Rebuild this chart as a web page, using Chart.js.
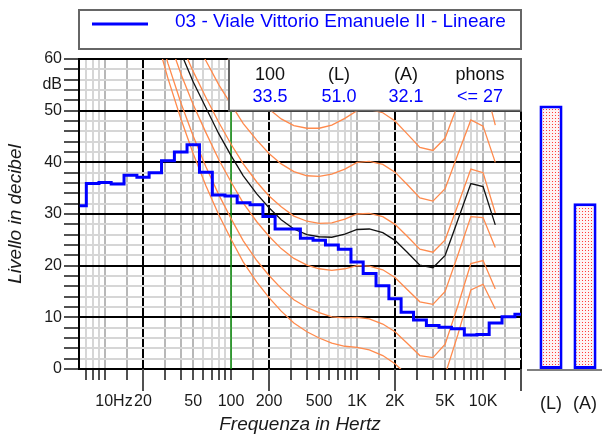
<!DOCTYPE html>
<html>
<head>
<meta charset="utf-8">
<script src="https://cdn.jsdelivr.net/npm/chart.js@4.4.0/dist/chart.umd.min.js"></script>
<style>
    body { margin: 0; background: #fff; }
    #wrap { position: relative; width: 602px; height: 434px; }
    #chart-spectrum { position: absolute; left: 0; top: 0; }
    #chart-levels { position: absolute; left: 527px; top: 0; }
</style>
</head>
<body>
<div id="wrap">
    <canvas id="chart-spectrum" width="602" height="434"></canvas>
    <canvas id="chart-levels" width="75" height="434"></canvas>
</div>
<script>
// Spettro in terzi d'ottava
var bandHz = [6.3, 8, 10, 12.5, 16, 20, 25, 31.5, 40, 50, 63, 80, 100, 125, 160, 200, 250, 315, 400, 500,
    630, 800, 1000, 1250, 1600, 2000, 2500, 3150, 4000, 5000, 6300, 8000, 10000, 12500, 16000, 20000];
var bandLevels = [31.6, 35.9, 36.1, 35.8, 37.5, 37.1, 38.0, 40.3, 42.0, 43.4, 38.1, 33.7, 33.5, 32.2, 31.8, 29.5, 27.1, 27.1, 25.3, 24.9,
    24.0, 23.2, 20.7, 18.5, 16.1, 13.6, 11.0, 9.5, 8.4, 8.1, 7.8, 6.6, 6.7, 8.9, 10.1, 10.6];

// Curve isofoniche
var contourHz = [20, 25, 31.5, 40, 50, 63, 80, 100, 125, 160, 200, 250, 315, 400, 500, 630, 800, 1000,
    1250, 1600, 2000, 2500, 3150, 4000, 5000, 6300, 8000, 10000, 12500];
var threshold = [74.3, 65.0, 56.3, 48.4, 41.7, 35.5, 29.8, 25.1, 20.7, 16.8, 13.8, 11.2, 8.9, 7.2, 6.0, 5.0, 4.4, 4.2,
    3.7, 2.6, 1.0, -1.2, -3.6, -3.9, -1.1, 6.6, 15.3, 16.4, 11.6];
var phon10 = [76.8, 67.7, 59.2, 51.5, 45.1, 39.2, 33.7, 29.1, 24.8, 21.0, 18.1, 15.6, 13.4, 11.9, 10.9, 10.1, 9.9, 10.0,
    9.7, 8.7, 7.2, 5.0, 2.6, 2.2, 4.8, 12.2, 20.4, 21.0, 15.5];
var phon20 = [81.3, 72.5, 64.3, 57.1, 51.2, 45.8, 40.5, 36.2, 32.1, 28.5, 25.7, 23.3, 21.4, 20.1, 19.4, 19.1, 19.4, 20.0,
    19.9, 19.2, 17.7, 15.4, 13.0, 12.5, 15.0, 22.0, 29.5, 29.3, 23.5];
var phon27 = [84.6, 76.0, 68.1, 61.2, 55.6, 50.6, 45.5, 41.3, 37.4, 33.9, 31.2, 28.9, 27.1, 26.0, 25.6, 25.5, 26.1, 27.0,
    27.1, 26.4, 24.9, 22.6, 20.1, 19.6, 22.0, 28.8, 35.9, 35.3, 27.9];
var phon30 = [86.0, 77.6, 69.7, 62.9, 57.6, 52.6, 47.7, 43.5, 39.7, 36.2, 33.5, 31.4, 29.6, 28.6, 28.2, 28.3, 29.0, 30.0,
    30.1, 29.5, 28.0, 25.7, 23.2, 22.6, 25.0, 31.7, 38.7, 38.0, 30.2];
var phon40 = [91.0, 82.9, 75.4, 69.0, 64.3, 59.7, 55.0, 51.2, 47.5, 44.3, 41.7, 39.7, 38.2, 37.4, 37.3, 37.7, 38.7, 40.0,
    40.2, 39.6, 38.1, 35.7, 33.1, 32.5, 34.9, 41.5, 48.2, 47.0, 40.0];
var phon50 = [96.2, 88.5, 81.3, 75.4, 71.3, 67.1, 62.7, 59.1, 55.7, 52.7, 50.3, 48.4, 47.1, 46.6, 46.6, 47.2, 48.5, 50.0,
    50.2, 49.6, 48.0, 45.5, 42.9, 42.3, 44.7, 51.2, 57.8, 56.5, 47.2];

// Livelli globali
var totalLabels = ["(L)", "(A)"];
var totalLevels = [51.0, 32.1];
var boxHeads = ["100", "(L)", "(A)", "phons"];
var boxValues = ["33.5", "51.0", "32.1", "<= 27"];
var legendText = "03 - Viale Vittorio Emanuele II - Lineare";

// Assi
var gridHz = [7, 8, 9, 10, 15, 20, 30, 40, 50, 60, 70, 80, 90, 100, 150, 200, 300, 400, 500, 600, 700, 800, 900,
    1000, 1500, 2000, 3000, 4000, 5000, 6000, 7000, 8000, 9000, 10000, 15000, 20000];
var majorHz = [20, 200, 2000, 20000];
var darkHz = [10, 15, 30, 40, 50, 100, 150, 300, 400, 500, 1000, 1500, 3000, 4000, 5000, 10000, 15000];
var freqLabels = {10: "    10Hz", 20: "20", 50: "50", 100: "100", 200: "200", 500: "500",
    1000: "1K", 2000: "2K", 5000: "5K", 10000: "10K"};
var levelTicks = [0, 2, 4, 6, 8, 10, 12, 14, 16, 18, 20, 22, 24, 26, 28, 30, 32, 34, 36, 38, 40,
    42, 44, 46, 48, 50, 52, 54, 55, 56, 58, 60];
var markerHz = 100;

var family = '"Liberation Sans", Arial, sans-serif';
var blue = "#0000ff";
var orange = "#ff8a4c";
Chart.defaults.font.family = family;

function toPoints(freqs, values) {
    return freqs.map(function (f, i) {
        return {x: Math.log10(f), y: values[i]};
    });
}

function curve(values, color) {
    return {
        data: toPoints(contourHz, values),
        borderColor: color,
        borderWidth: 1.3,
        pointRadius: 0,
        tension: 0
    };
}

var frames = {
    id: "frames",
    afterDatasetsDraw: function (chart) {
        var c = chart.ctx, a = chart.chartArea, y = chart.scales.y;
        var left = a.left + 150, top = a.top;
        var w = a.right - left, h = y.getPixelForValue(50) - top;
        var cols = [41, 110, 177, 251];
        c.save();
        c.fillStyle = "#fff";
        c.fillRect(left, top, w, h);
        c.strokeStyle = "#666";
        c.lineWidth = 2;
        c.strokeRect(left, top, w, h);
        c.textAlign = "center";
        c.textBaseline = "middle";
        c.font = "18px " + family;
        for (var i = 0; i < boxHeads.length; i++) {
            c.fillStyle = "#111";
            c.fillText(boxHeads[i], left + cols[i], top + 16);
            c.fillStyle = blue;
            c.fillText(boxValues[i], left + cols[i], top + 38);
        }
        c.restore();
    },
    afterDraw: function (chart) {
        var c = chart.ctx, a = chart.chartArea, x = chart.scales.x;
        c.save();
        // tacche lunghe
        c.strokeStyle = "#505050";
        c.lineWidth = 2;
        majorHz.forEach(function (f) {
            var px = Math.round(x.getPixelForValue(Math.log10(f)));
            c.beginPath();
            c.moveTo(px, a.bottom);
            c.lineTo(px, a.bottom + 22);
            c.stroke();
        });
        // legenda
        c.strokeStyle = "#666";
        c.strokeRect(a.left, 10, a.right - a.left, 39);
        c.strokeStyle = blue;
        c.lineWidth = 3;
        c.beginPath();
        c.moveTo(a.left + 13, 24);
        c.lineTo(a.left + 69, 24);
        c.stroke();
        c.fillStyle = blue;
        c.font = "19px " + family;
        c.textAlign = "left";
        c.textBaseline = "middle";
        c.fillText(legendText, a.left + 96, 22);
        c.restore();
    }
};

var ctx = document.getElementById("chart-spectrum").getContext("2d");
var myChart = new Chart(ctx, {
    type: "line",
    data: {
        datasets: [
            {
                label: legendText,
                data: toPoints(bandHz, bandLevels),
                borderColor: blue,
                borderWidth: 3,
                pointRadius: 0,
                stepped: "middle"
            },
            curve(phon27, "#111"),
            curve(threshold, orange),
            curve(phon10, orange),
            curve(phon20, orange),
            curve(phon30, orange),
            curve(phon40, orange),
            curve(phon50, orange),
            {
                data: [{x: Math.log10(markerHz), y: 0}, {x: Math.log10(markerHz), y: 60}],
                borderColor: "#109010",
                borderWidth: 1.5,
                pointRadius: 0
            }
        ]
    },
    options: {
        responsive: false,
        animation: false,
        layout: {
            padding: {top: 59, right: 81, left: 0, bottom: 0}
        },
        plugins: {
            legend: {display: false},
            tooltip: {enabled: false}
        },
        scales: {
            x: {
                type: "linear",
                min: Math.log10(20000) - 442 / 126,
                max: Math.log10(20000),
                afterBuildTicks: function (scale) {
                    scale.ticks = gridHz.map(function (f) {
                        return {value: Math.log10(f)};
                    });
                },
                afterFit: function (scale) {
                    scale.height = 65;
                },
                ticks: {
                    autoSkip: false,
                    maxRotation: 0,
                    minRotation: 0,
                    padding: 12,
                    color: "#1a1a1a",
                    font: {size: 16},
                    callback: function (value, i) {
                        return freqLabels[gridHz[i]] || "";
                    }
                },
                grid: {
                    color: function (c) {
                        var f = gridHz[c.index];
                        if (majorHz.indexOf(f) >= 0) return "#000";
                        if (darkHz.indexOf(f) >= 0) return "#b8b8b8";
                        return "#d6d6d6";
                    },
                    lineWidth: 2,
                    tickLength: 11,
                    tickColor: "#505050",
                    tickWidth: 2
                },
                border: {color: "#000", width: 2},
                title: {
                    display: true,
                    text: "Frequenza in Hertz",
                    color: "#1a1a1a",
                    font: {size: 19, style: "italic", lineHeight: 1},
                    padding: 0
                }
            },
            y: {
                min: 0,
                max: 60,
                afterBuildTicks: function (scale) {
                    scale.ticks = levelTicks.map(function (v) {
                        return {value: v};
                    });
                },
                afterFit: function (scale) {
                    scale.width = 79;
                },
                ticks: {
                    autoSkip: false,
                    padding: 2,
                    color: "#1a1a1a",
                    font: {size: 16},
                    callback: function (value) {
                        if (value === 55) return "dB";
                        return value % 10 === 0 ? String(value) : "";
                    }
                },
                grid: {
                    color: function (c) {
                        var v = c.tick.value;
                        if (v === 55) return "rgba(0,0,0,0)";
                        return v % 10 === 0 ? "#000" : "#d6d6d6";
                    },
                    lineWidth: 2,
                    tickLength: 15,
                    tickColor: function (c) {
                        return c.tick.value === 55 ? "rgba(0,0,0,0)" : "#505050";
                    },
                    tickWidth: 2
                },
                border: {color: "#000", width: 2},
                title: {
                    display: true,
                    text: "Livello in decibel",
                    color: "#1a1a1a",
                    font: {size: 19, style: "italic", lineHeight: 1},
                    padding: {top: 6, bottom: 0}
                }
            }
        }
    },
    plugins: [frames]
});
// Fine chart-spectrum

// Start chart-levels
var ctx2 = document.getElementById("chart-levels").getContext("2d");
var dots = document.createElement("canvas");
dots.width = 3;
dots.height = 3;
var dc = dots.getContext("2d");
dc.fillStyle = "#fff2f2";
dc.fillRect(0, 0, 3, 3);
dc.fillStyle = "#ff3c3c";
dc.fillRect(1, 1, 1, 1);
var dotFill = ctx2.createPattern(dots, "repeat");

var baseline = {
    id: "baseline",
    beforeDatasetsDraw: function (chart) {
        var c = chart.ctx, a = chart.chartArea;
        c.save();
        c.strokeStyle = "#808080";
        c.lineWidth = 2;
        c.beginPath();
        c.moveTo(0, a.bottom + 1);
        c.lineTo(chart.width, a.bottom + 1);
        c.stroke();
        c.restore();
    }
};

var levelsChart = new Chart(ctx2, {
    type: "bar",
    data: {
        labels: totalLabels,
        datasets: [
            {
                data: totalLevels,
                backgroundColor: dotFill,
                borderColor: blue,
                borderWidth: 3,
                borderSkipped: false,
                barPercentage: 0.68,
                categoryPercentage: 1
            }
        ]
    },
    options: {
        responsive: false,
        animation: false,
        layout: {
            padding: {top: 59, left: 7, right: 0, bottom: 0}
        },
        plugins: {
            legend: {display: false},
            tooltip: {enabled: false}
        },
        scales: {
            x: {
                grid: {display: false, drawTicks: true, tickLength: 22},
                border: {display: false},
                afterFit: function (scale) {
                    scale.height = 65;
                },
                ticks: {
                    padding: 2,
                    maxRotation: 0,
                    color: "#1a1a1a",
                    font: {size: 18}
                }
            },
            y: {
                display: false,
                min: 0,
                max: 60
            }
        }
    },
    plugins: [baseline]
});
// Akhir chart-levels
</script>
</body>
</html>
